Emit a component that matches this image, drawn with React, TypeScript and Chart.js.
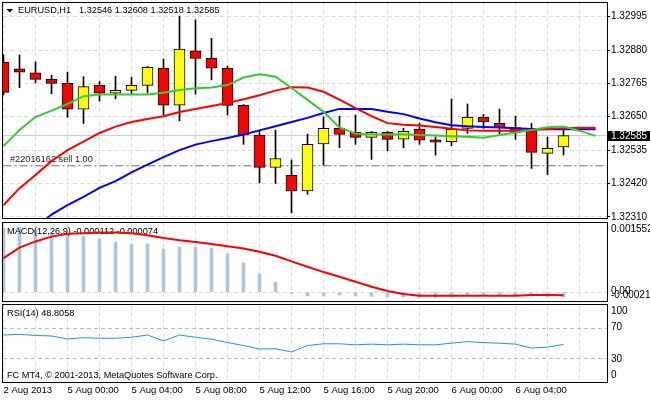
import React, { useEffect, useRef } from "react";
import { Chart, registerables } from "chart.js";

Chart.register(...registerables);

// ---------------- data ----------------
const opens = [1.32838, 1.32815, 1.32801, 1.32779, 1.32765, 1.32676, 1.32758, 1.32731, 1.32741, 1.32758, 1.32817, 1.3269, 1.32877, 1.32851, 1.32817, 1.32689, 1.32587, 1.32475, 1.32448, 1.32394, 1.32556, 1.3261, 1.32596, 1.32579, 1.32596, 1.32573, 1.32607, 1.3257, 1.32564, 1.3261, 1.32648, 1.32627, 1.32613, 1.32602, 1.32524, 1.32546];
const highs = [1.32863, 1.32863, 1.32839, 1.32793, 1.32804, 1.32788, 1.32771, 1.3279, 1.32786, 1.32823, 1.32849, 1.32997, 1.32984, 1.3292, 1.32825, 1.32692, 1.32602, 1.32604, 1.32501, 1.3259, 1.3265, 1.32652, 1.32656, 1.32599, 1.32599, 1.3261, 1.32628, 1.3258, 1.32711, 1.32694, 1.32658, 1.32676, 1.32652, 1.32627, 1.3258, 1.32608];
const lows = [1.32725, 1.3275, 1.32767, 1.32729, 1.32648, 1.32627, 1.32704, 1.32712, 1.32727, 1.32732, 1.32656, 1.32636, 1.32728, 1.32777, 1.32656, 1.32555, 1.32422, 1.3242, 1.32319, 1.32383, 1.32483, 1.32543, 1.32555, 1.32503, 1.32533, 1.32543, 1.32555, 1.32518, 1.3255, 1.32593, 1.3261, 1.3259, 1.32572, 1.32472, 1.3245, 1.32518];
const closes = [1.32734, 1.32804, 1.32779, 1.32765, 1.32676, 1.32754, 1.32731, 1.32741, 1.32758, 1.3282, 1.3269, 1.32883, 1.32851, 1.32817, 1.32689, 1.32587, 1.32475, 1.32506, 1.32394, 1.32555, 1.3261, 1.32589, 1.32579, 1.32596, 1.32572, 1.326, 1.32569, 1.32562, 1.32607, 1.32648, 1.32633, 1.32613, 1.32597, 1.32527, 1.32541, 1.32585];

// moving averages (shifted 2 bars forward, so 38 points)
const maGreen = [1.32549, 1.32604, 1.32649, 1.32671, 1.32694, 1.32721, 1.32727, 1.32727, 1.32727, 1.32727, 1.32733, 1.32742, 1.32748, 1.32751, 1.32759, 1.32785, 1.32796, 1.32788, 1.32749, 1.32708, 1.32667, 1.32613, 1.32592, 1.32589, 1.32589, 1.3259, 1.32587, 1.32585, 1.32583, 1.32581, 1.32578, 1.32587, 1.32596, 1.32604, 1.32614, 1.32616, 1.32602, 1.32584];
const maRed = [1.32345, 1.32404, 1.32449, 1.32497, 1.32535, 1.32564, 1.32594, 1.32616, 1.32632, 1.32642, 1.32652, 1.32666, 1.32677, 1.32687, 1.32697, 1.3271, 1.32724, 1.3274, 1.32752, 1.32751, 1.32736, 1.32709, 1.3268, 1.32652, 1.32628, 1.32622, 1.3262, 1.32615, 1.32609, 1.32603, 1.32602, 1.32602, 1.32602, 1.32604, 1.32608, 1.3261, 1.32612, 1.32612];
const maBlue = [1.32183, 1.32225, 1.32266, 1.32313, 1.32345, 1.32374, 1.32405, 1.32428, 1.32458, 1.32485, 1.32511, 1.32535, 1.32554, 1.32566, 1.32577, 1.32589, 1.32603, 1.32617, 1.32632, 1.32646, 1.32663, 1.32677, 1.32677, 1.32677, 1.32667, 1.32659, 1.32644, 1.32631, 1.32621, 1.32617, 1.32615, 1.32613, 1.3261, 1.32608, 1.32607, 1.32607, 1.32607, 1.32607];

const macdHist = [0.001527, 0.001552, 0.001487, 0.001408, 0.001401, 0.001329, 0.00127, 0.001198, 0.001151, 0.001151, 0.001032, 0.001074, 0.001074, 0.001051, 0.000908, 0.0007, 0.000431, 0.000241, -0.000033, -0.000086, -0.000086, -0.000069, -0.000086, -0.0001, -0.000117, -0.000117, -0.000117, -0.000133, -0.000117, -0.000086, -0.000069, -0.000069, -0.000086, -0.0001, -0.000117, -0.000112];
const macdSignal = [0.000812, 0.001063, 0.00121, 0.001325, 0.001391, 0.001408, 0.001425, 0.001425, 0.001408, 0.00136, 0.001294, 0.001241, 0.001198, 0.001151, 0.001098, 0.001044, 0.000963, 0.000867, 0.000734, 0.000605, 0.000479, 0.000367, 0.000248, 0.000129, 0.000026, -0.000045, -0.000086, -0.000086, -0.000086, -0.000086, -0.000086, -0.000086, -0.000086, -0.000069, -0.000069, -0.000074];
const rsiValues = [61.0, 61.9, 60.4, 59.8, 55.9, 57.6, 56.8, 56.8, 58.1, 61.0, 53.4, 61.0, 58.1, 55.6, 51.2, 47.4, 42.8, 43.2, 39.0, 47.4, 49.6, 49.6, 48.3, 49.2, 48.3, 49.2, 48.3, 48.3, 50.4, 52.5, 51.2, 50.4, 49.2, 44.1, 45.3, 48.8058];

const timeLabels = ["2 Aug 2013", "5 Aug 00:00", "5 Aug 04:00", "5 Aug 08:00", "5 Aug 12:00", "5 Aug 16:00", "5 Aug 20:00", "6 Aug 00:00", "6 Aug 04:00"];
const timeLabelIndices = [0, 4, 8, 12, 16, 20, 24, 28, 32];
const gridIndices = [0, 2, 4, 6, 8, 10, 12, 14, 16, 18, 20, 22, 24, 26, 28, 30, 32, 34, 36];

const priceTicks = [1.32995, 1.3288, 1.32765, 1.3265, 1.32535, 1.3242, 1.32305];
const priceTickLabels = ["1.32995", "1.32880", "1.32765", "1.32650", "1.32535", "1.32420", "1.32310"];

const sellPrice = 1.32481;
const sellLabel = "#22016162 sell 1.00";
const symbolText = "EURUSD,H1";
const macdTitle = "MACD(12,26,9) -0.000112 -0.000074";
const macdAxisLabels = ["0.001552", "0.00", "-0.000211"];
const rsiTitle = "RSI(14) 48.8058";
const rsiLevels = [30, 70];
const rsiAxisLabels = ["100", "70", "30", "0"];
const copyrightText = "FC MT4, \u00a9 2001-2013, MetaQuotes Software Corp.";

// ---------------- styling / layout ----------------
const X_MIN = -0.03125;
const X_MAX = 37.71875;
const PRICE_MIN = 1.32301;
const PRICE_MAX = 1.33042;
const MACD_MIN = -0.000211;
const MACD_MAX = 0.00165;
const FAMILY = '"Liberation Sans", Arial, sans-serif';
const font = (s: number) => `${s}px ${FAMILY}`;
const GRID = "#dcdcdc";

function xScale(showLabels: boolean) {
  return {
    type: "linear",
    min: X_MIN,
    max: X_MAX,
    offset: false,
    afterBuildTicks: (s: any) => {
      s.ticks = gridIndices.map((v) => ({ value: v }));
    },
    ticks: {
      display: showLabels,
      autoSkip: false,
      maxRotation: 0,
      minRotation: 0,
      align: "start",
      padding: 3,
      color: "#000",
      font: { family: FAMILY, size: 9.5 },
      callback: (value: number) => {
        const k = timeLabelIndices.indexOf(value);
        return k >= 0 ? timeLabels[k] : "";
      },
    },
    grid: { color: GRID, drawTicks: false, offset: false, lineWidth: 1 },
    border: { display: false, dash: [4, 3] },
    afterFit: (s: any) => {
      s.height = showLabels ? 18 : 0;
      s.paddingLeft = 0;
      s.paddingRight = 0;
    },
  };
}

function hiddenY(min: number, max: number, levels: number[], color: string) {
  return {
    position: "right",
    min,
    max,
    afterBuildTicks: (s: any) => {
      s.ticks = levels.map((v) => ({ value: v }));
    },
    ticks: { display: false },
    grid: { color, drawTicks: false, lineWidth: 1 },
    border: { display: false, dash: [4, 3] },
    afterFit: (s: any) => {
      s.width = 43;
      s.paddingTop = 0;
      s.paddingBottom = 0;
    },
  };
}

const common = {
  responsive: false,
  animation: false,
  devicePixelRatio: 1,
  events: [],
  plugins: { legend: { display: false }, tooltip: { enabled: false } },
};

function lineDs(values: number[], color: string, width: number, order: number, dash: number[] = []) {
  return {
    type: "line",
    data: values.map((v, i) => ({ x: i, y: v })),
    borderColor: color,
    borderWidth: width,
    borderDash: dash,
    pointRadius: 0,
    tension: 0,
    fill: false,
    order,
  };
}

function drawBorder(ctx: CanvasRenderingContext2D, a: any) {
  ctx.strokeStyle = "#000";
  ctx.lineWidth = 1;
  ctx.setLineDash([]);
  ctx.strokeRect(a.left - 0.5, a.top - 0.5, a.right - a.left + 1, a.bottom - a.top + 1);
}

function mainConfig(): any {
  const last = closes.length - 1;
  const bodyColors = closes.map((c, i) => (c >= opens[i] ? "#FFFF00" : "#FF0000"));
  const decor = {
    id: "mainDecor",
    beforeDatasetsDraw(chart: any) {
      const ctx = chart.ctx;
      const y = chart.scales.y;
      ctx.save();
      ctx.font = font(9.2);
      ctx.fillStyle = "#222";
      ctx.textAlign = "left";
      ctx.textBaseline = "middle";
      ctx.fillText(sellLabel, 10, y.getPixelForValue(sellPrice) - 6);
      ctx.restore();
    },
    afterDraw(chart: any) {
      const ctx = chart.ctx;
      const y = chart.scales.y;
      ctx.save();
      drawBorder(ctx, chart.chartArea);
      ctx.fillStyle = "#000";
      ctx.beginPath();
      ctx.moveTo(6.5, 9);
      ctx.lineTo(13, 9);
      ctx.lineTo(9.75, 12.5);
      ctx.closePath();
      ctx.fill();
      ctx.font = font(9.2);
      ctx.textAlign = "left";
      ctx.textBaseline = "middle";
      ctx.fillText(symbolText, 18, 10.5);
      const ohlc = [opens[last], highs[last], lows[last], closes[last]].map((v) => v.toFixed(5)).join(" ");
      ctx.fillText(ohlc, 79, 10.5);
      const py = Math.round(y.getPixelForValue(closes[last]));
      ctx.fillStyle = "#000";
      ctx.fillRect(608, py - 5, 42, 10);
      ctx.fillStyle = "#fff";
      ctx.font = font(10);
      ctx.fillText(closes[last].toFixed(5), 611, py + 0.5);
      ctx.restore();
    },
  };
  return {
    type: "bar",
    data: {
      datasets: [
        lineDs(maGreen, "#32CD32", 2, 1),
        lineDs(maRed, "#FF0000", 2, 2),
        lineDs(maBlue, "#0000FF", 2, 3),
        {
          type: "bar",
          data: opens.map((o, i) => ({ x: i, y: [o, closes[i]] })),
          backgroundColor: bodyColors,
          borderColor: "#000",
          borderWidth: 1,
          borderSkipped: false,
          barThickness: 11,
          minBarLength: 2,
          grouped: false,
          order: 7,
        },
        {
          type: "bar",
          data: lows.map((l, i) => ({ x: i, y: [l, highs[i]] })),
          backgroundColor: "#000",
          borderWidth: 0,
          barThickness: 1,
          grouped: false,
          order: 8,
        },
        {
          ...lineDs([sellPrice, sellPrice], "#707070", 1, 9, [8, 3, 2, 3]),
          data: [{ x: -1, y: sellPrice }, { x: 39, y: sellPrice }],
        },
        {
          ...lineDs([closes[last], closes[last]], "#c8c8c8", 1, 10),
          data: [{ x: -1, y: closes[last] }, { x: 39, y: closes[last] }],
        },
      ],
    },
    options: {
      ...common,
      layout: { padding: { left: 3, top: 3, right: 0, bottom: 182 } },
      scales: {
        x: xScale(false),
        y: {
          position: "right",
          min: PRICE_MIN,
          max: PRICE_MAX,
          afterBuildTicks: (s: any) => {
            s.ticks = priceTicks.map((v) => ({ value: v }));
          },
          ticks: {
            autoSkip: false,
            padding: 1,
            color: "#000",
            font: { family: FAMILY, size: 10 },
            callback: (_v: number, i: number) => priceTickLabels[i],
          },
          grid: { color: GRID, drawTicks: true, tickLength: 3, tickColor: "#000", tickBorderDash: [], lineWidth: 1 },
          border: { display: false, dash: [4, 3] },
          afterFit: (s: any) => {
            s.width = 43;
            s.paddingTop = 0;
            s.paddingBottom = 0;
          },
        },
      },
    },
    plugins: [decor],
  };
}

function macdConfig(): any {
  const decor = {
    id: "macdDecor",
    afterDatasetDraw(chart: any, args: any) {
      if (args.index !== 1) return;
      const ctx = chart.ctx;
      ctx.save();
      ctx.font = font(9.2);
      ctx.fillStyle = "#000";
      ctx.textAlign = "left";
      ctx.textBaseline = "middle";
      ctx.fillText(macdTitle, 7, chart.chartArea.top + 8.7);
      ctx.restore();
    },
    afterDraw(chart: any) {
      const ctx = chart.ctx;
      const a = chart.chartArea;
      const y = chart.scales.y;
      ctx.save();
      drawBorder(ctx, a);
      ctx.font = font(10);
      ctx.fillStyle = "#000";
      ctx.textAlign = "left";
      ctx.textBaseline = "middle";
      ctx.fillText(macdAxisLabels[0], 611, a.top + 6.7);
      ctx.fillText(macdAxisLabels[1], 611, y.getPixelForValue(0) - 1);
      ctx.fillText(macdAxisLabels[2], 611, a.bottom - 5.5);
      ctx.restore();
    },
  };
  return {
    type: "bar",
    data: {
      datasets: [
        lineDs(macdSignal, "#FF0000", 2, 0),
        {
          type: "bar",
          data: macdHist.map((v, i) => ({ x: i, y: v })),
          backgroundColor: "#B0C4DE",
          borderWidth: 0,
          barThickness: 3,
          grouped: false,
          order: 1,
        },
      ],
    },
    options: {
      ...common,
      layout: { padding: { left: 3, top: 223, right: 0, bottom: 99 } },
      scales: {
        x: xScale(false),
        y: hiddenY(MACD_MIN, MACD_MAX, [0], GRID),
      },
    },
    plugins: [decor],
  };
}

function rsiConfig(): any {
  const decor = {
    id: "rsiDecor",
    beforeDatasetsDraw(chart: any) {
      const ctx = chart.ctx;
      const a = chart.chartArea;
      ctx.save();
      ctx.font = font(9.2);
      ctx.fillStyle = "#000";
      ctx.textAlign = "left";
      ctx.textBaseline = "middle";
      ctx.fillText(rsiTitle, 7, a.top + 8.3);
      ctx.fillText(copyrightText, 7, a.bottom - 7);
      ctx.restore();
    },
    afterDraw(chart: any) {
      const ctx = chart.ctx;
      const a = chart.chartArea;
      const y = chart.scales.y;
      ctx.save();
      drawBorder(ctx, a);
      ctx.font = font(10);
      ctx.fillStyle = "#000";
      ctx.textAlign = "left";
      ctx.textBaseline = "middle";
      ctx.fillText(rsiAxisLabels[0], 611, a.top + 6.3);
      ctx.fillText(rsiAxisLabels[1], 611, y.getPixelForValue(rsiLevels[1]) - 0.5);
      ctx.fillText(rsiAxisLabels[2], 611, y.getPixelForValue(rsiLevels[0]));
      ctx.fillText(rsiAxisLabels[3], 611, a.bottom - 7);
      ctx.restore();
    },
  };
  return {
    type: "line",
    data: {
      datasets: [lineDs(rsiValues, "#1E90FF", 1, 0)],
    },
    options: {
      ...common,
      layout: { padding: { left: 3, top: 305, right: 0, bottom: 0 } },
      scales: {
        x: xScale(true),
        y: hiddenY(0, 100, rsiLevels, "#bdbdbd"),
      },
    },
    plugins: [decor],
  };
}

export default function App() {
  const mainRef = useRef<HTMLCanvasElement>(null);
  const macdRef = useRef<HTMLCanvasElement>(null);
  const rsiRef = useRef<HTMLCanvasElement>(null);

  useEffect(() => {
    const charts = [
      new Chart(mainRef.current as HTMLCanvasElement, mainConfig()),
      new Chart(macdRef.current as HTMLCanvasElement, macdConfig()),
      new Chart(rsiRef.current as HTMLCanvasElement, rsiConfig()),
    ];
    return () => charts.forEach((c) => c.destroy());
  }, []);

  const cs: any = { position: "absolute", left: 0, top: 0, width: 650, height: 400 };
  return (
    <div style={{ position: "fixed", left: 0, top: 0, width: 650, height: 400, background: "#fff", overflow: "hidden" }}>
      <canvas ref={mainRef} width={650} height={400} style={cs} />
      <canvas ref={macdRef} width={650} height={400} style={cs} />
      <canvas ref={rsiRef} width={650} height={400} style={cs} />
    </div>
  );
}
